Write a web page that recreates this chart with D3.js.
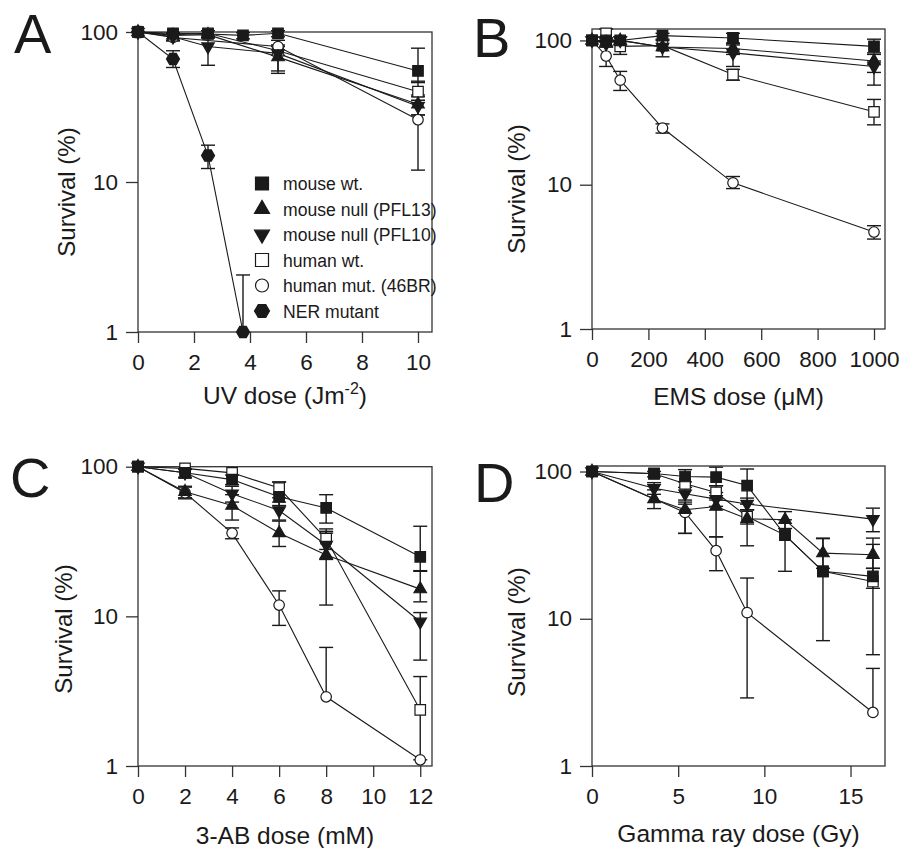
<!DOCTYPE html>
<html>
<head>
<meta charset="utf-8">
<script src="https://cdn.jsdelivr.net/npm/d3@7"></script>
<style>
  body { margin: 0; background: #fff; }
  svg { font-family: "Liberation Sans", Arial, sans-serif; }
</style>
</head>
<body>
<svg id="chart" width="906" height="848"></svg>
<script>
// series order: mouse wt, PFL13, PFL10, human wt, 46BR, NER mutant
var seriesNames = ["mouse wt.", "mouse null (PFL13)", "mouse null (PFL10)", "human wt.", "human mut. (46BR)", "NER mutant"];
var seriesShapes = ["square", "triUp", "triDown", "square", "circle", "hexagon"];
var seriesFilled = [true, true, true, false, false, true];
var yTicks = [1, 10, 100];

// A - UV
var uvDose = [0, 1.25, 2.5, 3.75, 5, 10];
var uvMouseWt = [100, 98, 97, 95, 98, 55];
var uvPfl13 = [100, 95, 96, null, 68, 33];
var uvPfl10 = [100, 93, 80, null, 72, 32];
var uvHumanWt = [100, 96, 98, null, 75, 40];
var uvHuman46br = [100, 92, null, null, 80, 26];
var uvNer = [100, 66, 15, 1, null, null];
var uvMouseWtErr = [null, null, null, [90, 99], [93, 102], [46, 78]];
var uvPfl13Err = [null, [88, 99], null, null, [55, 80], [28, 38]];
var uvPfl10Err = [null, null, [60, 92], null, [53, 82], [28, 37]];
var uvHumanWtErr = [null, null, [94, 102], null, null, [35, 47]];
var uvHuman46brErr = [null, [87, 97], null, null, [70, 88], [12, 35]];
var uvNerErr = [null, [58, 75], [12.3, 17.6], [1, 2.4], null, null];
var uvTicks = [0, 2, 4, 6, 8, 10];

// B - EMS
var emsDose = [0, 50, 100, 250, 500, 1000];
var emsMouseWt = [100, 100, 100, 108, 104, 91];
var emsPfl13 = [100, 97, 100, 90, 88, 72];
var emsPfl10 = [100, 95, 100, 90, 82, 66];
var emsHumanWt = [100, 112, 91, 92, 58, 32];
var emsHuman46br = [100, 78, 53, 24.7, 10.3, 4.7];
var emsMouseWtErr = [null, null, null, [102, 112], [96, 112], [82, 102]];
var emsPfl13Err = [null, [90, 104], [93, 106], [77, 100], [80, 95], [60, 80]];
var emsPfl10Err = [null, null, null, null, [66, 93], [49, 72]];
var emsHumanWtErr = [null, [104, 120], [80, 98], null, [53, 63], [26, 39]];
var emsHuman46brErr = [null, [66, 90], [45, 61], [22.8, 26.4], [9.4, 11.4], [4.2, 5.2]];
var emsTicks = [0, 200, 400, 600, 800, 1000];

// C - 3-AB
var abDose = [0, 2, 4, 6, 8, 12];
var abMouseWt = [100, 91, 82, 63, 53, 25];
var abPfl13 = [100, 68, 55, 36, 25.7, 15.2];
var abPfl10 = [100, 91, 66, 51, 30, 9.2];
var abHumanWt = [100, 97.5, 91, 72, 33, 2.37];
var abHuman46br = [100, 67, 36, 11.9, 2.9, 1.1];
var abMouseWtErr = [null, [85, 97], [76, 88], [55, 79], [42, 65], [20, 40]];
var abPfl13Err = [null, [62, 74], [44, 65], [29.3, 43.3], [11.9, 38.4], [12.5, 20.2]];
var abPfl10Err = [null, [84, 97], [58, 74], [44, 58], [24, 36], [5.1, 10.6]];
var abHumanWtErr = [null, null, null, [62, 79], [28, 37], [1.1, 3.96]];
var abHuman46brErr = [null, [61, 73], [33, 39], [8.7, 14.8], [2.9, 6.2], null];
var abTicks = [0, 2, 4, 6, 8, 10, 12];

// D - gamma
var gammaDose = [0, 3.6, 5.4, 7.2, 9, 11.2, 13.4, 16.3];
var gammaMouseWt = [100, 97, 92.5, 91.6, 80.3, 37, 21, 19.4];
var gammaPfl13 = [100, 65, 55, 57.8, 47.8, 47, 27.9, 27.2];
var gammaPfl10 = [100, 77, 70.6, 64.9, 60.2, null, null, 47.5];
var gammaHumanWt = [100, 96.5, 82.5, 72, 49.4, 37, 21, 17.9];
var gammaHuman46br = [100, null, 52.7, 29, 11, null, null, 2.31];
var gammaMouseWtErr = [null, null, [85, 103], [80, 107], [60, 104], [21, 47], [7.1, 35], [16.1, 22]];
var gammaPfl13Err = [null, [56, 75], [38, 60], [36, 66], [31.3, 55], [41, 53.4], [22, 35.3], [22, 35.3]];
var gammaPfl10Err = [null, [70, 84], [64, 78], [58, 72], [55, 66], null, null, [39, 56.4]];
var gammaHumanWtErr = [null, [92, 100], null, [64, 80], [44, 55], null, null, [5.7, 32]];
var gammaHuman46brErr = [null, null, [38, 62], [21.2, 36], [2.9, 18.9], null, null, [2.31, 4.6]];
var gammaTicks = [0, 5, 10, 15];

var panels = [
  {letter: "A", lx: 14, ly: 53, left: 138, right: 432, top: 32, bottom: 332, xmax: 10.5, ymax: 100,
   dose: uvDose, ticks: uvTicks,
   series: [uvMouseWt, uvPfl13, uvPfl10, uvHumanWt, uvHuman46br, uvNer],
   errs: [uvMouseWtErr, uvPfl13Err, uvPfl10Err, uvHumanWtErr, uvHuman46brErr, uvNerErr],
   xtitle: ["UV dose (Jm", "-2", ")"], xty: 404, yty: 192, ytx: 75, legend: true},
  {letter: "B", lx: 473, ly: 57, left: 592, right: 885, top: 29, bottom: 329, xmax: 1039, ymax: 120,
   dose: emsDose, ticks: emsTicks,
   series: [emsMouseWt, emsPfl13, emsPfl10, emsHumanWt, emsHuman46br, null],
   errs: [emsMouseWtErr, emsPfl13Err, emsPfl10Err, emsHumanWtErr, emsHuman46brErr, null],
   xtitle: ["EMS dose (\u03bcM)"], xty: 405, yty: 189, ytx: 525},
  {letter: "C", lx: 10, ly: 497, left: 138, right: 432, top: 466.7, bottom: 766, xmax: 12.5, ymax: 100,
   dose: abDose, ticks: abTicks,
   series: [abMouseWt, abPfl13, abPfl10, abHumanWt, abHuman46br, null],
   errs: [abMouseWtErr, abPfl13Err, abPfl10Err, abHumanWtErr, abHuman46brErr, null],
   xtitle: ["3-AB dose (mM)"], xty: 844, yty: 629, ytx: 72},
  {letter: "D", lx: 474, ly: 502, left: 592, right: 885, top: 466, bottom: 766, xmax: 17, ymax: 109,
   dose: gammaDose, ticks: gammaTicks,
   series: [gammaMouseWt, gammaPfl13, gammaPfl10, gammaHumanWt, gammaHuman46br, null],
   errs: [gammaMouseWtErr, gammaPfl13Err, gammaPfl10Err, gammaHumanWtErr, gammaHuman46brErr, null],
   xtitle: ["Gamma ray dose (Gy)"], xty: 842, yty: 632, ytx: 525}
];

var ink = "#1a1a1a";
var svg = d3.select("#chart");

var markerPath = function(shape, s) {
  if (shape == "square") return "M" + (-s / 2) + "," + (-s / 2) + "h" + s + "v" + s + "h" + (-s) + "Z";
  if (shape == "circle") return d3.symbol(d3.symbolCircle, Math.PI * (s / 2) * (s / 2))();
  var h = s * 0.866;
  if (shape == "triUp") return "M0," + (-2 * h / 3) + "L" + (s / 2) + "," + (h / 3) + "L" + (-s / 2) + "," + (h / 3) + "Z";
  if (shape == "triDown") return "M0," + (2 * h / 3) + "L" + (s / 2) + "," + (-h / 3) + "L" + (-s / 2) + "," + (-h / 3) + "Z";
  // hexagon
  var r = s / 2, pts = [];
  for (var k = 0; k < 6; k++) {
    var a = Math.PI / 3 * k;
    pts.push([r * Math.cos(a), r * Math.sin(a)]);
  }
  return "M" + pts.map(function(p) { return p[0].toFixed(2) + "," + p[1].toFixed(2); }).join("L") + "Z";
};
var plotSize = [10.5, 12.5, 12.5, 10.5, 10.5, 13];
var legendSize = [13, 15, 15, 13, 13, 15];

panels.forEach(function(p) {
  var x = d3.scaleLinear().domain([0, p.xmax]).range([p.left, p.right]);
  var y = d3.scaleLog().domain([1, p.ymax]).range([p.bottom, p.top]);
  var g = svg.append("g");

  // panel letter
  g.append("text").attr("x", p.lx).attr("y", p.ly)
    .attr("font-size", 56).attr("fill", ink).text(p.letter);

  // axes
  var yAxis = d3.axisLeft(y).tickValues(yTicks).tickFormat(d3.format("d")).tickSize(12).tickPadding(8);
  var xAxis = d3.axisBottom(x).tickValues(p.ticks).tickFormat(d3.format("d")).tickSize(11).tickPadding(11);
  var ya = g.append("g").attr("transform", "translate(" + p.left + ",0)").call(yAxis);
  var xa = g.append("g").attr("transform", "translate(0," + p.bottom + ")").call(xAxis);
  [ya, xa].forEach(function(a) {
    a.select(".domain").remove();
    a.selectAll("line").attr("stroke", "#333").attr("stroke-width", 1.3);
    a.selectAll("text").attr("font-size", 22.5).attr("fill", ink)
      .attr("font-family", "'Liberation Sans', Arial, sans-serif");
  });
  g.append("rect").attr("x", p.left).attr("y", p.top)
    .attr("width", p.right - p.left).attr("height", p.bottom - p.top)
    .attr("fill", "none").attr("stroke", "#333").attr("stroke-width", 1.3);

  // titles
  var xt = g.append("text").attr("x", (p.left + p.right) / 2).attr("y", p.xty)
    .attr("text-anchor", "middle").attr("font-size", 24.5).attr("fill", ink);
  xt.append("tspan").text(p.xtitle[0]);
  if (p.xtitle.length > 1) {
    xt.append("tspan").attr("dy", -10).attr("font-size", 16).text(p.xtitle[1]);
    xt.append("tspan").attr("dy", 10).text(p.xtitle[2]);
  }
  g.append("text").attr("transform", "translate(" + p.ytx + "," + p.yty + ") rotate(-90)")
    .attr("text-anchor", "middle").attr("font-size", 24).attr("fill", ink).text("Survival (%)");

  var line = d3.line().defined(function(d) { return d.v != null; })
    .x(function(d) { return x(d.x); }).y(function(d) { return y(d.v); });

  var sets = [];
  p.series.forEach(function(vals, si) {
    if (!vals) return;
    var pts = vals.map(function(v, i) { return {x: p.dose[i], v: v, e: p.errs[si][i]}; });
    sets.push({si: si, pts: pts});
  });

  // connecting lines (skip missing points)
  sets.forEach(function(s) {
    g.append("path").datum(s.pts.filter(function(d) { return d.v != null; }))
      .attr("d", line).attr("fill", "none").attr("stroke", ink).attr("stroke-width", 1.1);
  });

  // error bars
  sets.forEach(function(s) {
    s.pts.forEach(function(d) {
      if (!d.e || d.v == null) return;
      var cx = x(d.x);
      g.append("line").attr("x1", cx).attr("x2", cx).attr("y1", y(d.e[0])).attr("y2", y(d.e[1]))
        .attr("stroke", ink).attr("stroke-width", 1.4);
      d.e.forEach(function(ev) {
        if (ev == d.v) return;
        g.append("line").attr("x1", cx - 7).attr("x2", cx + 7).attr("y1", y(ev)).attr("y2", y(ev))
          .attr("stroke", ink).attr("stroke-width", 1.4);
      });
    });
  });

  // markers: open ones first, filled on top
  var order = sets.filter(function(s) { return !seriesFilled[s.si]; })
    .concat(sets.filter(function(s) { return seriesFilled[s.si]; }));
  order.forEach(function(s) {
    g.selectAll(null).data(s.pts.filter(function(d) { return d.v != null; }))
      .enter().append("path")
      .attr("transform", function(d) { return "translate(" + x(d.x) + "," + y(d.v) + ")"; })
      .attr("d", markerPath(seriesShapes[s.si], plotSize[s.si]))
      .attr("fill", seriesFilled[s.si] ? ink : "#fff")
      .attr("stroke", ink).attr("stroke-width", 1.2);
  });

  // legend
  if (p.legend) {
    var lg = g.append("g");
    seriesNames.forEach(function(name, i) {
      var ry = 183.5 + i * 25.5;
      lg.append("path").attr("transform", "translate(262," + ry + ")")
        .attr("d", markerPath(seriesShapes[i], legendSize[i]))
        .attr("fill", seriesFilled[i] ? ink : "#fff").attr("stroke", ink).attr("stroke-width", 1.2);
      lg.append("text").attr("x", 283).attr("y", ry + 6.5).attr("font-size", 17.6)
        .attr("fill", ink).text(name);
    });
  }
});
</script>
</body>
</html>
